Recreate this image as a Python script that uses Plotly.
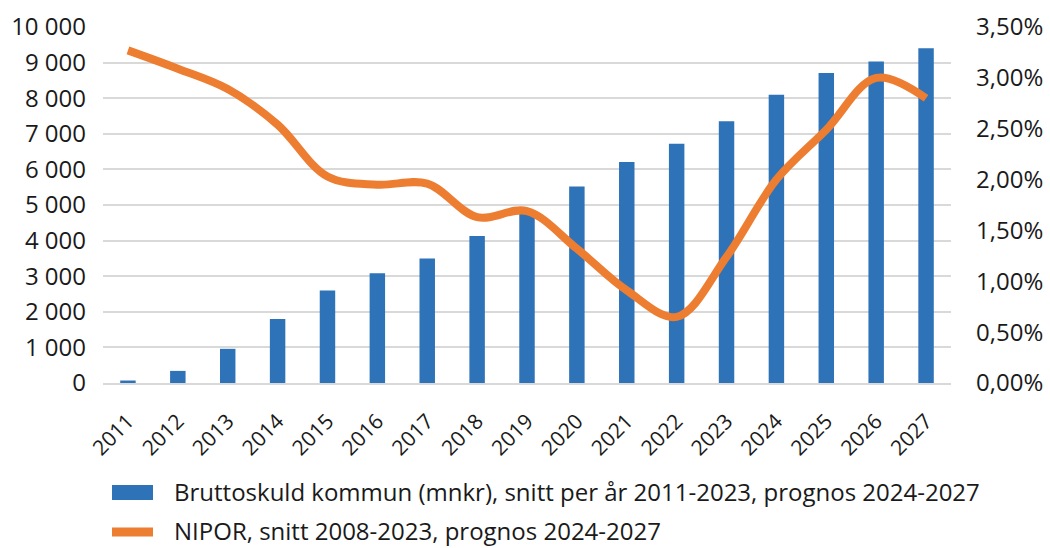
import plotly.graph_objects as go

# Years on the category axis
years = [str(y) for y in range(2011, 2028)]

# Gross debt for municipalities (mnkr), average per year, forecast 2024-2027
bruttoskuld = [70, 340, 960, 1800, 2600, 3080, 3500, 4130, 4750, 5520,
               6210, 6720, 7350, 8100, 8710, 9030, 9400]

# NIPOR in percent, average 2008-2023, forecast 2024-2027
nipor_pct = [3.27, 3.09, 2.89, 2.54, 2.03, 1.95, 1.96, 1.63, 1.69, 1.32,
             0.91, 0.65, 1.24, 2.00, 2.49, 3.00, 2.80]

bar_label = "Bruttoskuld kommun (mnkr), snitt per år 2011-2023, prognos 2024-2027"
line_label = "NIPOR, snitt 2008-2023, prognos 2024-2027"

BLUE = "#2E72B8"
ORANGE = "#ED7D31"
FONT = "Open Sans"
TEXT = "#1a1a1a"

W, H = 1050, 548
ML, MR, MT, MB = 103, 99, 27, 165
PW, PH = W - ML - MR, H - MT - MB


def px(x):
    """Pixel column -> paper x."""
    return (x - ML) / PW


def py(y):
    """Pixel row -> paper y."""
    return (H - MB - y) / PH


fig = go.Figure()

fig.add_trace(go.Bar(
    x=years, y=bruttoskuld,
    name=bar_label,
    marker=dict(color=BLUE, line=dict(width=0)),
    yaxis="y",
))

fig.add_trace(go.Scatter(
    x=years, y=[v / 100 for v in nipor_pct],
    name=line_label,
    mode="lines",
    line=dict(color=ORANGE, width=8, shape="spline", smoothing=1.0),
    yaxis="y2",
))

# Legend below the chart, drawn as shapes + text
shapes = [
    dict(type="rect", xref="paper", yref="paper",
         x0=px(112), x1=px(153), y0=py(500), y1=py(485),
         fillcolor=BLUE, line=dict(width=0)),
    dict(type="line", xref="paper", yref="paper",
         x0=px(112), x1=px(153), y0=py(532), y1=py(532),
         line=dict(color=ORANGE, width=9)),
]
annotations = [
    dict(text=bar_label, xref="paper", yref="paper", x=px(172), y=py(492),
         xanchor="left", yanchor="middle", showarrow=False,
         font=dict(family=FONT, size=24, color=TEXT)),
    dict(text=line_label, xref="paper", yref="paper", x=px(172), y=py(530),
         xanchor="left", yanchor="middle", showarrow=False,
         font=dict(family=FONT, size=24, color=TEXT)),
]

fig.update_layout(
    width=W, height=H,
    margin=dict(l=ML, r=MR, t=MT, b=MB),
    paper_bgcolor="white", plot_bgcolor="white",
    separators=", ",
    font=dict(family=FONT, size=24, color=TEXT),
    bargap=0.69,
    showlegend=False,
    shapes=shapes,
    annotations=annotations,
    xaxis=dict(
        type="category",
        tickangle=-45,
        tickfont=dict(size=21),
        showgrid=False,
        showline=True, linecolor="#d9d9d9", linewidth=1.5,
        ticks="", automargin=False,
        ticklabelstandoff=16,
    ),
    yaxis=dict(
        range=[0, 10000], dtick=1000, tickformat=",d",
        showgrid=True, gridcolor="#d9d9d9", gridwidth=1.5,
        zeroline=False, ticks="", showline=False,
        ticklabelstandoff=16, automargin=False,
    ),
    yaxis2=dict(
        overlaying="y", side="right",
        range=[0, 0.035], dtick=0.005, tickformat=".2%",
        showgrid=False, zeroline=False, ticks="", showline=False,
        ticklabelstandoff=24, automargin=False,
    ),
)

fig.write_html("out.html")
